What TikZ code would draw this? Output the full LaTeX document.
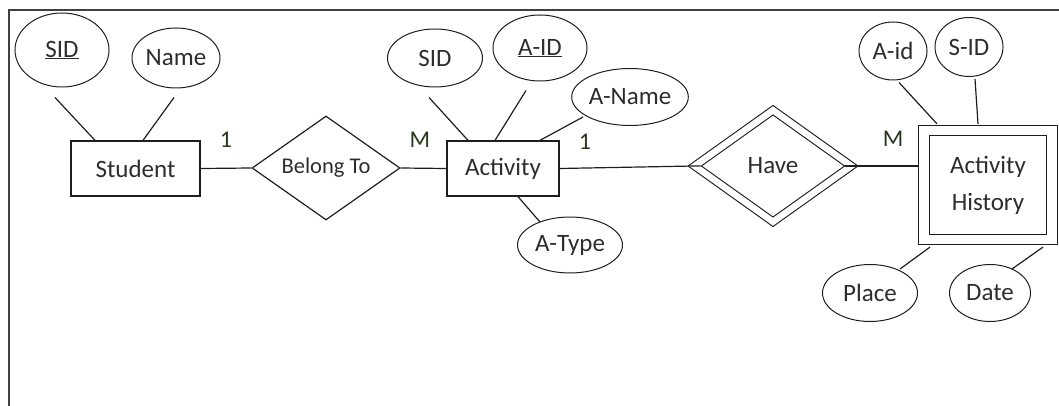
\documentclass[tikz,border=0pt]{standalone}
\usepackage{fontspec}
\setmainfont{Carlito}
\usetikzlibrary{shapes.geometric}
\definecolor{ink}{RGB}{30,30,30}
\definecolor{txt}{RGB}{45,45,45}
\definecolor{cardc}{RGB}{40,55,30}
\begin{document}
\begin{tikzpicture}[x=1pt,y=-1pt,
  every node/.style={font=\fontsize{25}{30}\selectfont, text=txt},
  attr/.style={ellipse, draw=ink, line width=1pt, inner sep=0pt},
  entity/.style={rectangle, draw=ink, line width=1.3pt, inner sep=0pt},
  rel/.style={diamond, draw=ink, line width=1.2pt, inner sep=0pt},
  link/.style={draw=ink, line width=1.2pt},
  card/.style={text=cardc, font=\fontsize{24}{28}\selectfont, inner sep=0pt}]
\useasboundingbox (0,0) rectangle (1059,406);
\draw[line width=1.6pt, draw=ink!85] (9,406) -- (9,10) -- (1059,10);

% Student side
\node[attr, minimum width=94pt, minimum height=74pt] (sidA) at (62,50) {\underline{SID}};
\node[attr, minimum width=88pt, minimum height=60pt] (name) at (176,58) {Name};
\node[entity, minimum width=129pt, minimum height=55pt] (student) at (135.5,168.5) {Student};
\node[rel, aspect=1.42, minimum width=148pt, minimum height=104pt, font=\fontsize{22.5}{27}\selectfont] (belong) at (326,168) {Belong To};

% Activity side
\node[attr, minimum width=95pt, minimum height=58pt] (sidB) at (435,58) {SID};
\node[attr, minimum width=94pt, minimum height=66pt] (aidA) at (540,48) {\underline{A-ID}};
\node[attr, minimum width=111pt, minimum height=57pt] (aname) at (630,97) {A-Name};
\node[entity, minimum width=112pt, minimum height=55pt] (activity) at (503,168.5) {Activity};
\node[attr, minimum width=105pt, minimum height=56pt] (atype) at (570,245) {A-Type};
\node[rel, aspect=1.4, double=white, double distance=6.5pt, line width=1.1pt, minimum width=157pt, minimum height=112pt] (have) at (773,166) {Have};

% Activity History side
\node[attr, minimum width=68pt, minimum height=58pt] (aidB) at (893,51) {A-id};
\node[attr, minimum width=68pt, minimum height=59pt] (sidC) at (969,47) {S-ID};
\node[entity, double=white, double distance=9.5pt, line width=1.2pt, minimum width=128pt, minimum height=109pt, align=center, font=\fontsize{25}{37}\selectfont] (ah) at (988,185) {Activity\\History};
\node[attr, minimum width=95pt, minimum height=57pt] (place) at (870,293) {Place};
\node[attr, minimum width=81pt, minimum height=57pt] (date) at (990,293) {Date};

% cardinalities
\node[card] (c1) at (226,140) {1};
\node[card] (c2) at (420,140) {M};
\node[card] (c3) at (585,142) {1};
\node[card] (c4) at (893,139) {M};

% connectors
\draw[link] ([xshift=-7pt,yshift=-10pt]sidA.south) -- ([xshift=-40.5pt]student.north);
\draw[link] ([xshift=-2pt,yshift=-9pt]name.south) -- ([xshift=7.5pt]student.north);
\draw[link] (student.east) -- (belong.west);
\draw[link] (belong.east) -- (activity.west);
\draw[link] ([xshift=-6pt,yshift=-10pt]sidB.south) -- ([xshift=-35pt]activity.north);
\draw[link] ([xshift=-14pt,yshift=-9pt]aidA.south) -- ([xshift=-8pt]activity.north);
\draw[link] ([xshift=-47pt,yshift=-20pt]aname.center) -- ([xshift=37pt]activity.north);
\draw[link] ([xshift=15pt]activity.south) -- ([xshift=-30pt,yshift=23pt]atype.center);
\draw[link, shorten >=-7pt] (activity.east) -- (have.west);
\draw[link, shorten <=-7pt, shorten >=5pt] (have.east) -- (have.east -| ah.west);
\draw[link] ([xshift=6pt,yshift=-2pt]aidB.south) -- ([xshift=-51pt,yshift=6pt]ah.north);
\draw[link] ([xshift=6pt,yshift=-2pt]sidC.south) -- ([xshift=-10pt,yshift=6pt]ah.north);
\draw[link] ([xshift=30pt,yshift=24pt]place.center) -- ([xshift=-58pt,yshift=-7pt]ah.south);
\draw[link] ([xshift=22pt,yshift=24pt]date.center) -- ([xshift=55pt,yshift=-7pt]ah.south);
\end{tikzpicture}
\end{document}
